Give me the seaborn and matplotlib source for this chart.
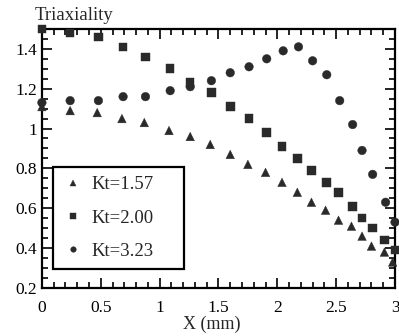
import numpy as np
import pandas as pd
import matplotlib
matplotlib.use("Agg")
import matplotlib.pyplot as plt
import seaborn as sns
from matplotlib.ticker import MultipleLocator

# Data
x_157 = [0.0, 0.24, 0.47, 0.68, 0.87, 1.08, 1.26, 1.43, 1.60, 1.75, 1.90, 2.04, 2.17, 2.29, 2.41, 2.52, 2.63, 2.72, 2.80, 2.91, 2.98]
y_157 = [1.11, 1.09, 1.08, 1.05, 1.03, 0.99, 0.96, 0.92, 0.87, 0.82, 0.78, 0.73, 0.68, 0.63, 0.59, 0.54, 0.51, 0.46, 0.41, 0.38, 0.33]

x_200 = [0.0, 0.24, 0.48, 0.69, 0.88, 1.09, 1.26, 1.44, 1.60, 1.76, 1.91, 2.04, 2.17, 2.29, 2.42, 2.52, 2.64, 2.72, 2.81, 2.91, 3.0]
y_200 = [1.50, 1.48, 1.46, 1.41, 1.36, 1.30, 1.23, 1.18, 1.11, 1.05, 0.98, 0.91, 0.85, 0.79, 0.73, 0.68, 0.61, 0.55, 0.50, 0.44, 0.39]

x_323 = [0.0, 0.24, 0.48, 0.69, 0.88, 1.09, 1.26, 1.44, 1.60, 1.76, 1.91, 2.05, 2.18, 2.30, 2.42, 2.53, 2.64, 2.72, 2.81, 2.92, 3.0]
y_323 = [1.13, 1.14, 1.14, 1.16, 1.16, 1.19, 1.21, 1.24, 1.28, 1.31, 1.35, 1.39, 1.41, 1.34, 1.27, 1.14, 1.02, 0.89, 0.77, 0.63, 0.53]

labels = ["Kt=1.57", "Kt=2.00", "Kt=3.23"]
xtick_vals = [0, 0.5, 1, 1.5, 2, 2.5, 3]
xtick_text = ["0", "0.5", "1", "1.5", "2", "2.5", "3"]
ytick_vals = [0.2, 0.4, 0.6, 0.8, 1.0, 1.2, 1.4]
ytick_text = ["0.2", "0.4", "0.6", "0.8", "1", "1.2", "1.4"]

df = pd.concat([
    pd.DataFrame({"x": x_157, "y": y_157, "Kt": labels[0]}),
    pd.DataFrame({"x": x_200, "y": y_200, "Kt": labels[1]}),
    pd.DataFrame({"x": x_323, "y": y_323, "Kt": labels[2]}),
])

sns.set_style("ticks")
plt.rcParams["font.family"] = ["Liberation Serif", "DejaVu Serif"]

fig = plt.figure(figsize=(3.99, 3.36), dpi=100)
ax = fig.add_axes([0.105, 0.143, 0.885, 0.771])

ink = "#2a2a2a"
sns.scatterplot(data=df, x="x", y="y", style="Kt", hue="Kt",
                palette={l: ink for l in labels},
                markers={labels[0]: "^", labels[1]: "s", labels[2]: "o"},
                s=38, edgecolor=ink, linewidth=0.3, ax=ax, clip_on=False, zorder=3)

ax.set_xlim(0, 3)
ax.set_ylim(0.2, 1.5)
ax.xaxis.set_minor_locator(MultipleLocator(0.1))
ax.yaxis.set_minor_locator(MultipleLocator(0.05))
ax.set_xticks(xtick_vals)
ax.set_xticklabels(xtick_text)
ax.set_yticks(ytick_vals)
ax.set_yticklabels(ytick_text)
ax.tick_params(which="both", direction="in", top=True, right=True, colors="black",
               labelsize=12.5, width=1.2)
ax.tick_params(axis="x", which="major", pad=9)
ax.tick_params(which="major", length=7)
ax.tick_params(which="minor", length=4)
for sp in ax.spines.values():
    sp.set_linewidth(1.6)
    sp.set_color("black")

ax.set_xlabel("X (mm)", fontsize=13, labelpad=-0.5, x=0.482)
ax.set_ylabel("")
fig.text(0.088, 0.955, "Triaxiality", fontsize=13.5, ha="left", va="center")

leg = ax.legend(loc="upper left", bbox_to_anchor=(0.031, 0.0, 0.371, 0.467),
                mode="expand", borderaxespad=0, frameon=True,
                fontsize=13.5, fancybox=False, labelspacing=0.85, borderpad=0.5,
                handletextpad=0.45, markerscale=0.65, handlelength=1.1)
leg.get_frame().set_edgecolor("black")
leg.get_frame().set_linewidth(1.6)
leg.get_frame().set_facecolor("white")
leg.get_frame().set_alpha(1)

fig.savefig("out.png", dpi=100)
